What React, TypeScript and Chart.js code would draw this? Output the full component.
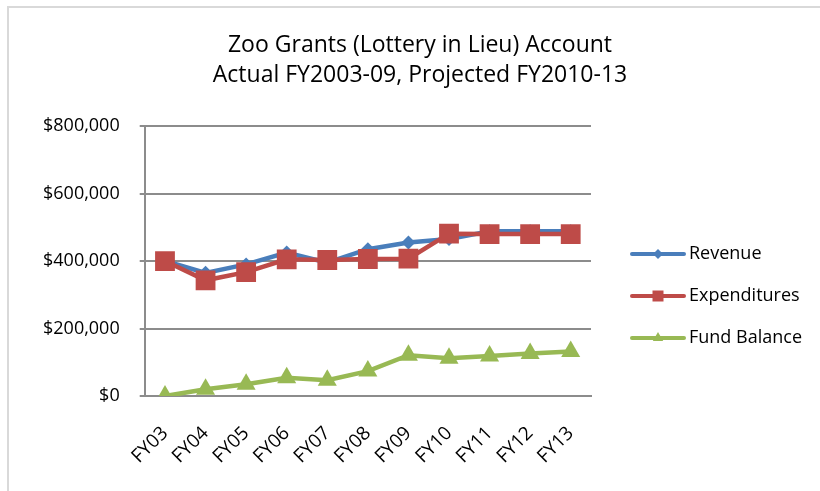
import { useEffect, useRef } from 'react';
import { Chart, registerables } from 'chart.js';

Chart.register(...registerables);

const categories = ['FY03', 'FY04', 'FY05', 'FY06', 'FY07', 'FY08', 'FY09', 'FY10', 'FY11', 'FY12', 'FY13'];
const revenue = [400000, 365000, 390000, 425000, 395000, 435000, 455000, 465000, 488000, 488000, 488000];
const expenditures = [400000, 343000, 367000, 405000, 403000, 406000, 407000, 481000, 480000, 480000, 480000];
const fundBalance = [0, 20000, 35000, 54000, 47000, 74000, 121000, 112000, 119000, 126000, 132000];
const yTicks = [0, 200000, 400000, 600000, 800000];
const seriesNames = ['Revenue', 'Expenditures', 'Fund Balance'];
const titleLines = ['Zoo Grants (Lottery in Lieu) Account', 'Actual FY2003-09, Projected FY2010-13'];

const FONT = "'Open Sans', sans-serif";
const COLORS = ['#4A7EBB', '#BE4B48', '#98B954'];
const STYLES = ['rectRot', 'rect', 'triangle'];

function drawMarker(ctx: CanvasRenderingContext2D, style: string, x: number, y: number, r: number) {
  ctx.beginPath();
  if (style === 'rectRot') {
    ctx.moveTo(x - r, y);
    ctx.lineTo(x, y - r);
    ctx.lineTo(x + r, y);
    ctx.lineTo(x, y + r);
  } else if (style === 'rect') {
    ctx.rect(x - r, y - r, 2 * r, 2 * r);
  } else {
    ctx.moveTo(x, y - r);
    ctx.lineTo(x + r * 0.866, y + r * 0.5);
    ctx.lineTo(x - r * 0.866, y + r * 0.5);
  }
  ctx.closePath();
  ctx.fill();
}

const decorPlugin = {
  id: 'decor',
  afterDraw(chart: any) {
    const ctx: CanvasRenderingContext2D = chart.ctx;
    ctx.save();
    // outer border
    ctx.fillStyle = '#d9d9d9';
    ctx.fillRect(7, 6, 813, 2);
    ctx.fillRect(7, 6, 2, 485);
    // title
    ctx.fillStyle = '#000';
    ctx.font = `23px ${FONT}`;
    ctx.textAlign = 'center';
    ctx.textBaseline = 'alphabetic';
    ctx.fillText(titleLines[0], 420, 52);
    ctx.fillText(titleLines[1], 420, 82);
    // legend
    const ys = [254, 296, 338];
    const sizes = [5, 5.5, 6];
    seriesNames.forEach((name, i) => {
      const y = ys[i];
      ctx.strokeStyle = COLORS[i];
      ctx.lineWidth = 4;
      ctx.lineCap = 'round';
      ctx.beginPath();
      ctx.moveTo(632, y);
      ctx.lineTo(684, y);
      ctx.stroke();
      ctx.fillStyle = COLORS[i];
      drawMarker(ctx, STYLES[i], 658, y, sizes[i]);
      ctx.fillStyle = '#000';
      ctx.font = `18px ${FONT}`;
      ctx.textAlign = 'left';
      ctx.textBaseline = 'middle';
      ctx.fillText(name, 689, y);
    });
    ctx.restore();
  },
};

export default function App() {
  const ref = useRef<HTMLCanvasElement>(null);
  useEffect(() => {
    if (!ref.current) return;
    const chart = new Chart(ref.current, {
      type: 'line',
      data: {
        labels: categories,
        datasets: [
          {
            label: seriesNames[0],
            data: revenue,
            borderColor: COLORS[0],
            backgroundColor: COLORS[0],
            borderWidth: 4.5,
            pointStyle: 'rectRot',
            pointRadius: 7,
            pointBorderWidth: 0,
            tension: 0,
            order: 2,
          },
          {
            label: seriesNames[1],
            data: expenditures,
            borderColor: COLORS[1],
            backgroundColor: COLORS[1],
            borderWidth: 4.5,
            pointStyle: 'rect',
            pointRadius: 14,
            pointBorderWidth: 0,
            tension: 0,
            order: 1,
          },
          {
            label: seriesNames[2],
            data: fundBalance,
            borderColor: COLORS[2],
            backgroundColor: COLORS[2],
            borderWidth: 4.5,
            pointStyle: 'triangle',
            pointRadius: 11,
            pointBorderWidth: 0,
            tension: 0,
            order: 0,
          },
        ],
      },
      options: {
        responsive: false,
        animation: false,
        layout: { padding: { left: 23, right: 229, top: 126, bottom: 5 } },
        plugins: { legend: { display: false }, title: { display: false }, tooltip: { enabled: false } },
        scales: {
          x: {
            offset: true,
            grid: { display: false },
            border: { display: true, color: '#8c8c8c', width: 2 },
            ticks: { maxRotation: 45, minRotation: 45, color: '#000', font: { family: FONT, size: 19 }, padding: 18 },
          },
          y: {
            min: 0,
            max: 800000,
            afterBuildTicks: (axis: any) => {
              axis.ticks = yTicks.map((v) => ({ value: v }));
            },
            ticks: {
              color: '#000',
              font: { family: FONT, size: 18 },
              padding: 20,
              callback: (v: any) => '$' + Number(v).toLocaleString('en-US'),
            },
            grid: { color: '#8c8c8c', lineWidth: 2, tickLength: 5 },
            border: { color: '#8c8c8c', width: 2 },
          },
        },
      },
      plugins: [decorPlugin],
    });
    return () => chart.destroy();
  }, []);
  return (
    <div style={{ position: 'fixed', left: 0, top: 0, width: 820, height: 491, background: '#fff' }}>
      <canvas ref={ref} width={820} height={491} />
    </div>
  );
}
